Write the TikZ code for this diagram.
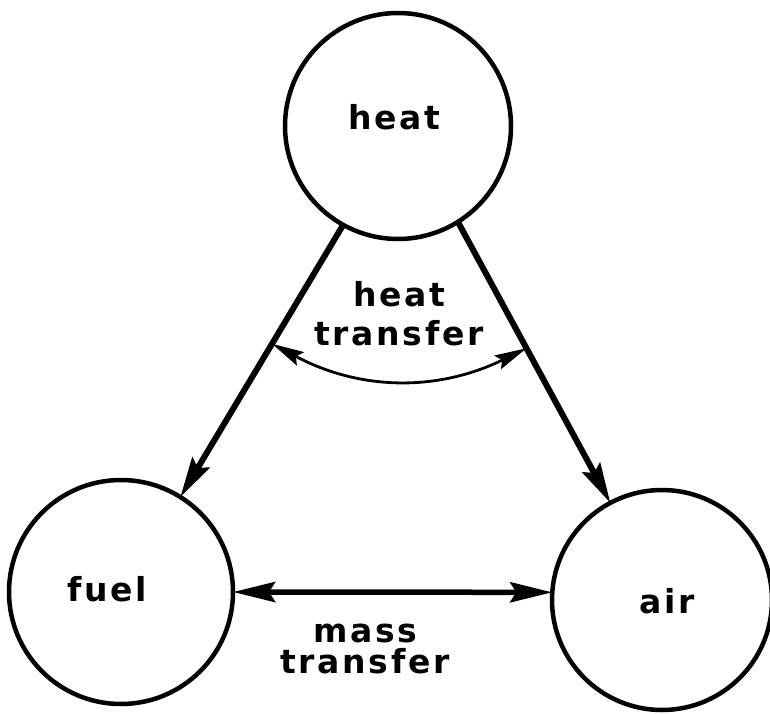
\documentclass[tikz,border=0pt]{standalone}
\usepackage{fontspec}
\newfontfamily\lblfont{DejaVu Sans}[LetterSpace=8]
\usetikzlibrary{arrows.meta,calc}
\begin{document}
\begin{tikzpicture}[x=1pt,y=1pt,
  blob/.style={circle,draw,line width=4.5pt,inner sep=0pt,outer sep=0pt},
  lbl/.style={font=\lblfont\bfseries\fontsize{33}{40}\selectfont,inner sep=0pt,align=center},
  flow/.style={line width=6pt,-{Stealth[length=40pt,width=20pt,inset=6pt]}},
  swap/.style={line width=5.5pt,{Stealth[length=42pt,width=20pt,inset=6pt]}-{Stealth[length=42pt,width=20pt,inset=6pt]}},
  exch/.style={line width=2.8pt,{Stealth[length=32pt,width=15pt,inset=5pt]}-{Stealth[length=32pt,width=15pt,inset=5pt]}}]
\useasboundingbox (0,0) rectangle (770,713);
% the three circles
\node[blob,minimum size=226pt] (heat) at (398,587) {};
\node[blob,minimum size=224pt] (fuel) at (121,121) {};
\node[blob,minimum size=220pt] (air)  at (662,113) {};
% labels inside the circles
\node[lbl,anchor=base] (heatlbl) at (394,583) {heat};
\node[lbl,anchor=base] (fuellbl) at (107,112) {fuel};
\node[lbl,anchor=base] (airlbl)  at (667,100) {air};
% heat flowing out to fuel and air
\draw[flow] (heat.241.3) -- (fuel.58.8);
\draw[flow] (heat.-58.4) -- (air.118.4);
% heat transfer between the two branches
\coordinate (hl) at ($(heat.241.3)!0.437!(fuel.58.8)$);
\coordinate (hr) at ($(heat.-58.4)!0.45!(air.118.4)$);
\draw[exch] (hl) to[bend right=27] (hr);
\node[lbl] (htlbl) at (399,399) {heat\\[-1pt]transfer};
% mass transfer between fuel and air
\draw[swap] (fuel.0) -- (air.176.4);
\node[lbl] (mtlbl) at (365,64) {mass\\[-9pt]transfer};
\end{tikzpicture}
\end{document}
